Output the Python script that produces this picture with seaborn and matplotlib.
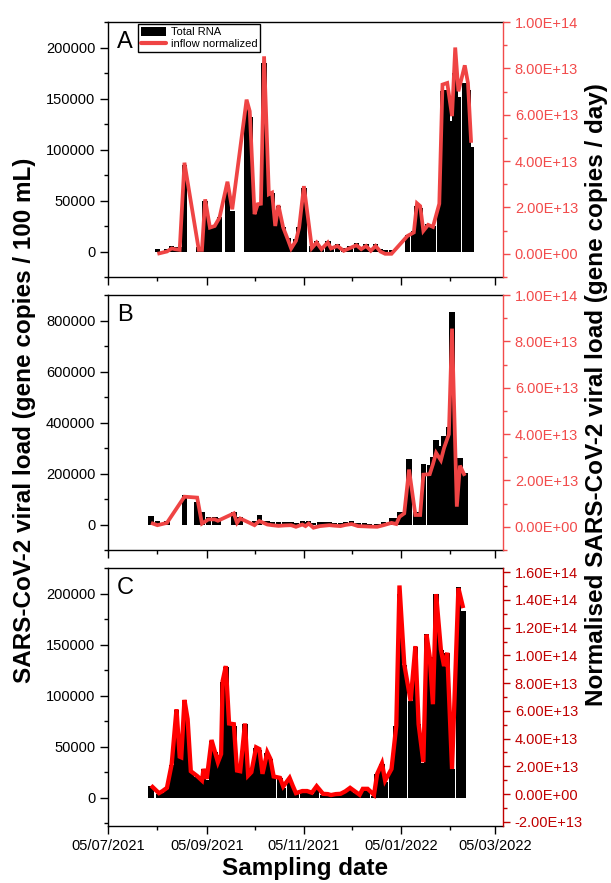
import numpy as np
import pandas as pd
import matplotlib
matplotlib.use("Agg")
import matplotlib.pyplot as plt
import matplotlib.dates as mdates
from matplotlib.ticker import MultipleLocator, FuncFormatter
from matplotlib.patches import Patch
from matplotlib.lines import Line2D
import seaborn as sns

sns.set_style("ticks")
plt.rcParams['font.family'] = ['Liberation Sans', 'DejaVu Sans']
plt.rcParams.update({"text.color": "black", "axes.labelcolor": "black", "axes.edgecolor": "black",
                     "xtick.color": "black", "ytick.color": "black"})

# ---------------- data ----------------
dates_A = ["2021-08-05", "2021-08-11", "2021-08-14", "2021-08-16", "2021-08-19", "2021-08-22",
           "2021-08-31", "2021-09-02", "2021-09-04", "2021-09-07", "2021-09-10", "2021-09-13", "2021-09-18", "2021-09-21",
           "2021-09-30", "2021-10-02", "2021-10-05", "2021-10-07", "2021-10-09", "2021-10-11", "2021-10-14", "2021-10-16",
           "2021-10-18", "2021-10-20", "2021-10-23", "2021-10-26", "2021-10-28", "2021-10-31", "2021-11-02", "2021-11-05",
           "2021-11-10", "2021-11-13", "2021-11-16", "2021-11-20", "2021-11-22", "2021-11-26", "2021-11-30", "2021-12-04",
           "2021-12-08", "2021-12-11", "2021-12-14", "2021-12-17", "2021-12-20", "2021-12-23", "2021-12-26", "2021-12-30",
           "2022-01-09", "2022-01-13", "2022-01-15", "2022-01-17", "2022-01-19", "2022-01-22", "2022-01-25", "2022-01-29",
           "2022-01-31", "2022-02-03", "2022-02-06", "2022-02-08", "2022-02-10", "2022-02-14", "2022-02-16", "2022-02-18"]
rna_A = [2000, 2000, 5000, 4000, 4000, 85000,
         4000, 4000, 50000, 24000, 26000, 34000, 65000, 40000,
         140000, 132000, 37000, 46000, 46000, 185000, 55000, 57000, 26000, 45000,
         24000, 13000, 5000, 12000, 24000, 62000, 5000, 10000, 4000, 10000,
         5000, 7000, 3000, 5000, 8000, 4000, 7000, 3000, 7000, 2000, 1000, 1000,
         16000, 20000, 45000, 43000, 21000, 27000, 25000, 46000, 157000, 158000,
         128000, 175000, 151000, 165000, 158000, 102000]
norm_A_e13 = [0.0, 0.1, 0.23, 0.2, 0.17, 3.93,
              0.17, 0.17, 2.35, 1.13, 1.2, 1.56, 3.11, 1.92,
              6.65, 6.15, 1.71, 2.14, 2.16, 8.52, 2.57, 2.64, 1.2, 2.1,
              1.13, 0.6, 0.23, 0.56, 1.13, 2.92, 0.25, 0.49, 0.2, 0.49,
              0.23, 0.34, 0.13, 0.25, 0.37, 0.2, 0.34, 0.13, 0.34, 0.1, 0.0, 0.0,
              0.77, 0.92, 2.18, 2.06, 0.99, 1.25, 1.16, 2.16, 7.3, 7.37,
              5.94, 8.9, 7.01, 8.13, 7.37, 4.79]

dates_B = ["2021-08-01", "2021-08-05", "2021-08-11", "2021-08-22", "2021-08-30", "2021-09-02", "2021-09-06",
           "2021-09-10", "2021-09-12", "2021-09-22", "2021-09-24", "2021-09-26", "2021-10-05", "2021-10-08",
           "2021-10-13", "2021-10-16", "2021-10-20", "2021-10-24", "2021-10-28", "2021-10-31", "2021-11-04",
           "2021-11-06", "2021-11-08", "2021-11-11", "2021-11-15", "2021-11-18", "2021-11-21", "2021-11-24",
           "2021-11-28", "2021-12-01", "2021-12-05", "2021-12-09", "2021-12-13", "2021-12-16", "2021-12-21",
           "2021-12-25", "2021-12-30", "2022-01-02", "2022-01-04", "2022-01-07", "2022-01-10", "2022-01-14",
           "2022-01-17", "2022-01-19", "2022-01-23", "2022-01-25", "2022-01-27", "2022-01-30", "2022-02-01",
           "2022-02-04", "2022-02-06", "2022-02-09", "2022-02-11", "2022-02-14"]
rna_B = [35000, 12000, 15000, 115000, 88000, 50000, 28000,
         28000, 25000, 50000, 25000, 30000, 15000, 38000,
         15000, 10000, 8000, 8000, 10000, 5000, 12000,
         8000, 15000, 5000, 8000, 8000, 8000, 6000,
         5000, 8000, 12000, 6000, 4000, 3000, 3000,
         8000, 26000, 26000, 48000, 48000, 255000, 50000,
         50000, 238000, 235000, 265000, 333000, 307000, 346000,
         382000, 834000, 262000, 262000, 203000]
norm_B_e13 = [0.17, 0.07, 0.17, 1.3, 1.26, 0.14, 0.32,
              0.32, 0.26, 0.58, 0.17, 0.36, 0.07, 0.25,
              0.1, 0.07, 0.04, 0.06, 0.07, 0.0, 0.1,
              0.03, 0.14, -0.04, 0.03, 0.05, 0.07, 0.05,
              0.03, 0.08, 0.12, 0.03, 0.02, 0.01, 0.0,
              0.07, 0.17, 0.12, 0.43, 0.58, 2.47, 0.51,
              0.51, 2.25, 2.27, 2.7, 3.19, 2.87, 3.4,
              3.99, 8.55, 0.87, 2.64, 2.2]

dates_C = ["2021-08-01", "2021-08-06", "2021-08-08", "2021-08-11", "2021-08-14", "2021-08-17", "2021-08-19",
           "2021-08-20", "2021-08-22", "2021-08-24", "2021-08-26", "2021-08-30", "2021-09-02", "2021-09-03",
           "2021-09-05", "2021-09-08", "2021-09-10", "2021-09-12", "2021-09-14", "2021-09-15", "2021-09-17",
           "2021-09-19", "2021-09-22", "2021-09-24", "2021-09-26", "2021-09-29", "2021-10-01", "2021-10-03",
           "2021-10-06", "2021-10-08", "2021-10-10", "2021-10-13", "2021-10-15", "2021-10-17", "2021-10-21",
           "2021-10-23", "2021-10-27", "2021-10-29", "2021-10-31", "2021-11-04", "2021-11-07", "2021-11-10",
           "2021-11-13", "2021-11-17", "2021-11-20", "2021-11-22", "2021-11-25", "2021-11-28", "2021-12-01",
           "2021-12-04", "2021-12-07", "2021-12-10", "2021-12-12", "2021-12-15", "2021-12-19", "2021-12-21",
           "2021-12-24", "2021-12-26", "2021-12-30", "2022-01-02", "2022-01-04", "2022-01-07", "2022-01-11",
           "2022-01-14", "2022-01-16", "2022-01-19", "2022-01-21", "2022-01-23", "2022-01-25", "2022-01-27",
           "2022-01-30", "2022-02-01", "2022-02-03", "2022-02-06", "2022-02-10", "2022-02-13"]
rna_C = [11500, 4000, 5000, 9000, 32000, 86000, 40000,
         39000, 95000, 60000, 25000, 20000, 17000, 28000,
         18000, 56000, 45000, 34000, 42000, 113000, 128000,
         72000, 70000, 26000, 25000, 72000, 21000, 24000,
         49000, 47000, 23000, 44000, 38000, 20000, 19000,
         10000, 19000, 10000, 4000, 6000, 6000, 4000,
         10000, 3000, 2500, 2000, 2500, 3000, 6000,
         9000, 5000, 2000, 8000, 8000, 2000, 23000,
         33000, 16000, 28000, 70000, 200000, 130000, 95000,
         148000, 72000, 34000, 160000, 138000, 92000, 200000,
         145000, 128000, 142000, 28000, 206000, 183000]
norm_C_e13 = [0.62, 0.07, 0.2, 0.45, 2.17, 6.12, 2.7,
              2.65, 6.79, 5.4, 1.65, 1.3, 0.98, 1.81,
              1.1, 3.9, 3.1, 2.3, 2.89, 8.16, 9.23,
              5.09, 5.04, 1.7, 1.65, 5.09, 1.34, 1.58,
              3.37, 3.25, 1.46, 3.01, 2.53, 1.27, 1.17,
              0.55, 1.17, 0.6, 0.07, 0.22, 0.22, 0.1,
              0.57, 0.02, 0.0, -0.07, 0.0, 0.02, 0.2,
              0.45, 0.2, -0.05, 0.38, 0.38, -0.05, 1.46,
              2.22, 0.98, 1.81, 4.93, 15.04, 9.35, 6.72,
              10.67, 5.04, 2.3, 11.5, 9.88, 6.48, 14.42,
              10.42, 9.23, 10.19, 1.81, 14.85, 13.41]

panel_letters = ["A", "B", "C"]
x_start, x_end = "2021-07-05", "2022-03-10"

# ---------------- style ----------------
FIG_W, FIG_H = 611, 883
fig = plt.figure(figsize=(FIG_W / 100, FIG_H / 100), dpi=100)

left_px, right_px = 108, 503
boxes = [(22, 277), (295, 550), (568, 826)]
line_colors = ["#ef4444", "#ef4444", "#ff0000"]
axis_colors = ["#f24b4b", "#f24b4b", "#c00000"]
left_lims = [(-25000, 225000), (-100000, 900000), (-27500, 225000)]
left_major = [50000, 200000, 50000]
right_lims = [(-1e13, 1e14), (-1e13, 1e14), (-2.3e13, 1.63e14)]
lws = [2.7, 2.7, 3.1]

data = [(dates_A, rna_A, norm_A_e13), (dates_B, rna_B, norm_B_e13), (dates_C, rna_C, norm_C_e13)]

sci_fmt = FuncFormatter(lambda v, p: "{:.2E}".format(v))
int_fmt = FuncFormatter(lambda v, p: "{:d}".format(int(round(v))))

for i, ((top, bot), (dts, rna, nrm)) in enumerate(zip(boxes, data)):
    ax = fig.add_axes([left_px / FIG_W, 1 - bot / FIG_H, (right_px - left_px) / FIG_W, (bot - top) / FIG_H])
    x = pd.to_datetime(dts)
    ax.bar(x, rna, width=3.5, color="black", linewidth=0, align="center", zorder=2)
    ax.set_ylim(*left_lims[i])
    ax.yaxis.set_major_locator(MultipleLocator(left_major[i]))
    ax.yaxis.set_minor_locator(MultipleLocator(left_major[i] / 2))
    ax.yaxis.set_major_formatter(int_fmt)

    ax2 = ax.twinx()
    df = pd.DataFrame({"date": x, "norm": np.array(nrm) * 1e13})
    sns.lineplot(data=df, x="date", y="norm", ax=ax2, color=line_colors[i], linewidth=lws[i],
                 legend=False, sort=False, solid_joinstyle="miter", solid_capstyle="butt")
    ax2.set_ylim(*right_lims[i])
    ax2.yaxis.set_major_locator(MultipleLocator(2e13))
    ax2.yaxis.set_minor_locator(MultipleLocator(1e13))
    ax2.yaxis.set_major_formatter(sci_fmt)
    ax2.set_ylabel("")
    ax2.set_xlabel("")

    ax.set_xlim(pd.Timestamp(x_start), pd.Timestamp(x_end))
    ax.xaxis.set_major_locator(mdates.MonthLocator(bymonth=[1, 3, 5, 7, 9, 11], bymonthday=5))
    ax.xaxis.set_minor_locator(mdates.MonthLocator(bymonth=[2, 4, 6, 8, 10, 12], bymonthday=5))
    ax.xaxis.set_major_formatter(mdates.DateFormatter("%d/%m/%Y"))
    ax.set_xlabel("")
    ax.set_ylabel("")

    for a in (ax, ax2):
        for s in a.spines.values():
            s.set_linewidth(1.0)
            s.set_color("black")
    ax.spines["right"].set_visible(False)
    for s in ("left", "top", "bottom"):
        ax2.spines[s].set_visible(False)
    ax2.spines["right"].set_color(axis_colors[i])

    ax.tick_params(axis="both", which="major", direction="out", length=5.5, width=1.0, labelsize=10.5,
                   color="black", labelcolor="black")
    ax.tick_params(axis="both", which="minor", direction="out", length=3, width=1.0, color="black")
    ax.tick_params(axis="y", right=False)
    ax2.tick_params(axis="y", which="major", direction="out", length=5, width=1.0, labelsize=10.5,
                    colors=axis_colors[i])
    ax2.tick_params(axis="y", which="minor", direction="out", length=3, width=1.0, colors=axis_colors[i])
    if i < 2:
        ax.tick_params(axis="x", labelbottom=False)

    ax.text(9 / 395, 1 - 9 / 255, panel_letters[i], transform=ax.transAxes, fontsize=17,
            va="top", ha="left", zorder=5, color="black")

    if i == 0:
        handles = [Patch(facecolor="black", edgecolor="none", label="Total RNA"),
                   Line2D([0], [0], color=line_colors[0], lw=3, label="inflow normalized")]
        leg = ax.legend(handles=handles, loc="upper left", bbox_to_anchor=(30 / 395, 1 - 2 / 255),
                        fontsize=8, frameon=True, fancybox=False, edgecolor="black", framealpha=1,
                        borderpad=0.25, handlelength=2.3, handleheight=0.9, handletextpad=0.4,
                        labelspacing=0.15, borderaxespad=0)
        leg.get_frame().set_linewidth(1.0)
        for t in leg.get_texts():
            t.set_color("black")
        leg.set_zorder(10)

fig.text(25 / FIG_W, 1 - 420 / FIG_H, "SARS-CoV-2 viral load (gene copies / 100 mL)", rotation=90,
         ha="center", va="center", fontsize=17.5, fontweight="bold", color="black")
fig.text(597 / FIG_W, 1 - 395 / FIG_H, "Normalised SARS-CoV-2 viral load (gene copies / day)", rotation=90,
         ha="center", va="center", fontsize=17.5, fontweight="bold", color="black")
fig.text(305 / FIG_W, 1 - 869 / FIG_H, "Sampling date", ha="center", va="center",
         fontsize=17.5, fontweight="bold", color="black")

fig.savefig("out.png", dpi=100)
